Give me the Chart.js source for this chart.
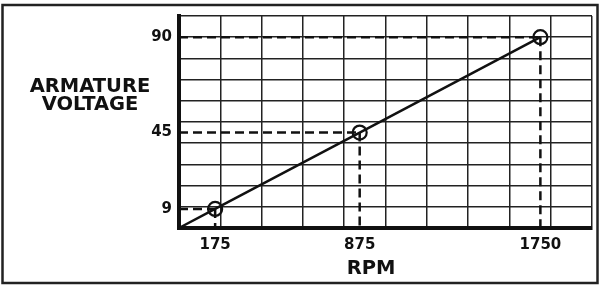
<!DOCTYPE html>
<html>
<head>
<meta charset="utf-8">
<script src="https://cdn.jsdelivr.net/npm/chart.js@4/dist/chart.umd.min.js"></script>
<style>
  body { margin: 0; background: #fff; }
  #wrap { width: 600px; height: 286px; position: relative; }
</style>
</head>
<body>
<div id="wrap"><canvas id="chart"></canvas></div>
<script>
// --- datos ---
const rpm = [175, 875, 1750];          // puntos marcados (eje X)
const voltage = [9, 45, 90];           // tension de armadura (eje Y)
const xGrid = [0, 200, 400, 600, 800, 1000, 1200, 1400, 1600, 1800, 2000];
const yGrid = [0, 10, 20, 30, 40, 50, 60, 70, 80, 90, 100];
const xTitle = 'RPM';
const yTitle = ['ARMATURE', 'VOLTAGE'];

const INK = '#111';
const FONT = 'DejaVu Sans';

// linea principal desde el origen
const lineData = [{ x: 0, y: 0 }].concat(rpm.map((r, i) => ({ x: r, y: voltage[i] })));

// guias punteadas (horizontal al eje Y y vertical al eje X)
const guides = [];
rpm.forEach((r, i) => {
    guides.push({
        data: [{ x: 0, y: voltage[i] }, { x: r, y: voltage[i] }],
        borderColor: INK, borderWidth: 2.5, borderDash: [9, 5],
        pointRadius: 0, fill: false
    });
    guides.push({
        data: [{ x: r, y: voltage[i] }, { x: r, y: 0 }],
        borderColor: INK, borderWidth: 2.5, borderDash: [9, 5],
        pointRadius: 0, fill: false
    });
});

// ticks: cuadricula + valores etiquetados
const mergeTicks = (grid, marks) =>
    Array.from(new Set(grid.concat(marks))).sort((a, b) => a - b).map(v => ({ value: v }));

const frame = {
    id: 'frame',
    beforeDraw(chart) {
        const c = chart.ctx;
        c.save();
        c.fillStyle = '#fff';
        c.fillRect(0, 0, chart.width, chart.height);
        c.restore();
    },
    afterDraw(chart) {
        const c = chart.ctx;
        const a = chart.chartArea;
        c.save();
        // marco exterior
        c.strokeStyle = '#222';
        c.lineWidth = 2.5;
        c.strokeRect(2.5, 5, 595, 278);
        // titulos
        c.fillStyle = INK;
        c.textAlign = 'center';
        c.textBaseline = 'middle';
        c.font = 'bold 19.5px "' + FONT + '"';
        c.fillText(yTitle[0], 90, 87);
        c.fillText(yTitle[1], 90, 105);
        c.fillText(xTitle, a.left + 192, 269);
        c.restore();
    }
};

new Chart(document.getElementById('chart'), {
    type: 'line',
    data: {
        datasets: [{
            data: lineData,
            borderColor: INK,
            borderWidth: 2.5,
            pointRadius: ctx => ctx.dataIndex === 0 ? 0 : 7,
            pointBorderWidth: 2.2,
            pointBorderColor: INK,
            pointBackgroundColor: 'rgba(0,0,0,0)',
            fill: false,
            tension: 0
        }].concat(guides)
    },
    options: {
        responsive: true,
        maintainAspectRatio: false,
        animation: false,
        clip: false,
        layout: { autoPadding: false, padding: { top: 12, right: 1, left: 0, bottom: 0 } },
        plugins: { legend: { display: false }, tooltip: { enabled: false } },
        scales: {
            x: {
                type: 'linear',
                min: 0, max: 2000,
                afterBuildTicks: s => { s.ticks = mergeTicks(xGrid, rpm); },
                afterFit: s => { s.height = 58; },
                grid: {
                    color: ctx => (ctx.tick && xGrid.includes(ctx.tick.value)) ? '#222' : 'rgba(0,0,0,0)',
                    lineWidth: 1.5,
                    drawTicks: false
                },
                border: { color: INK, width: 4 },
                ticks: {
                    autoSkip: false, maxRotation: 0, padding: 8,
                    color: INK,
                    font: { family: FONT, weight: 'bold', size: 15 },
                    callback: v => rpm.includes(v) ? String(v) : ''
                }
            },
            y: {
                type: 'linear',
                min: 0, max: 100,
                afterBuildTicks: s => { s.ticks = mergeTicks(yGrid, voltage); },
                afterFit: s => { s.width = 179; },
                grid: {
                    color: ctx => (ctx.tick && yGrid.includes(ctx.tick.value)) ? '#222' : 'rgba(0,0,0,0)',
                    lineWidth: 1.5,
                    drawTicks: false
                },
                border: { color: INK, width: 4 },
                ticks: {
                    autoSkip: false, padding: 7,
                    color: INK,
                    font: { family: FONT, weight: 'bold', size: 15 },
                    callback: v => voltage.includes(v) ? String(v) : ''
                }
            }
        }
    },
    plugins: [frame]
});
</script>
</body>
</html>
